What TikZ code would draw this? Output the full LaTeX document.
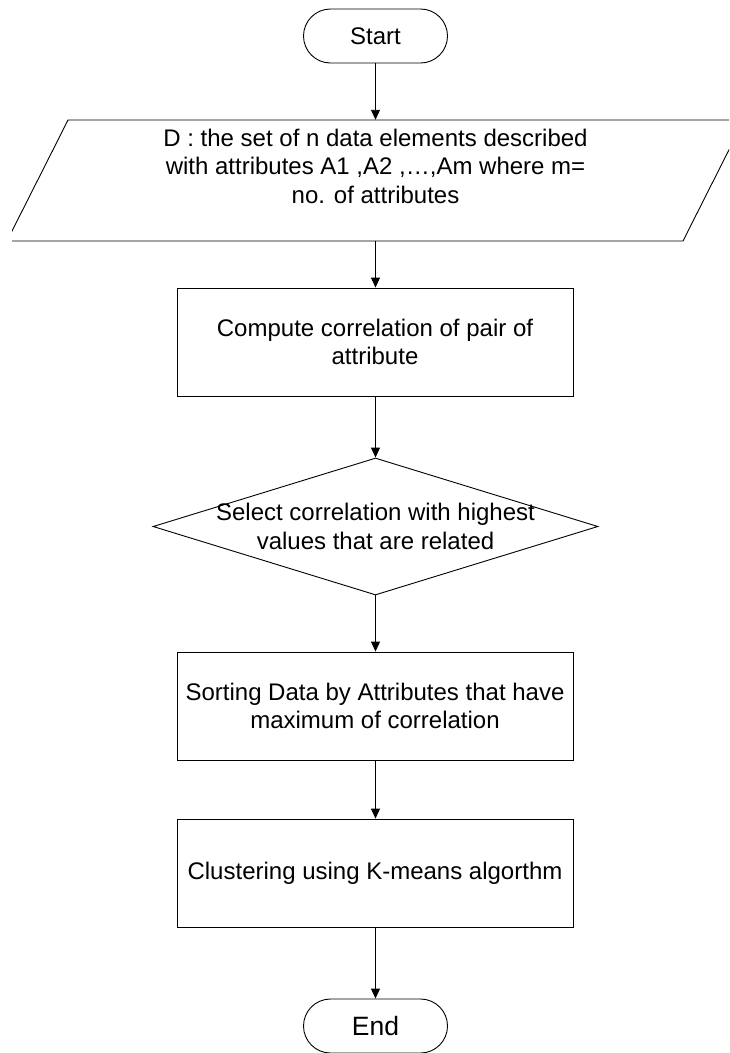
\documentclass[tikz,border=0pt]{standalone}
\usepackage{fontspec}
\setmainfont{Liberation Sans}
\usetikzlibrary{shapes.geometric,shapes.misc,arrows.meta}
\begin{document}
\begin{tikzpicture}[x=1pt,y=-1pt,
  every node/.style={font=\fontsize{24}{28.5}\selectfont, align=center, inner sep=0pt},
  term/.style={draw, rounded rectangle, minimum width=144pt, minimum height=54pt, line width=0.9pt},
  procbox/.style={draw, rectangle, minimum width=396pt, minimum height=108pt, line width=0.9pt},
  decbox/.style={draw, diamond, minimum width=445pt, minimum height=137pt, line width=0.9pt},
  iobox/.style={rectangle, minimum width=600pt, minimum height=121pt},
  flow/.style={-{Triangle[length=10pt,width=9pt]}, line width=0.9pt},
  shapeline/.style={line width=0.9pt, line join=miter}]
\useasboundingbox (0,0) rectangle (729,1053);

\node[term] (start) at (375.5,36) {Start};

\node[iobox] (data) at (375.5,180.5) {D : the set of n data elements described\\
with attributes A1 ,A2 ,…,Am where m=\\ no. of attributes\\ \mbox{}};
\begin{scope}
  \clip (12,0) rectangle (729,1053);
  \draw[shapeline] (68,120) -- (744,120) -- (683,241) -- (7,241) -- cycle;
\end{scope}

\node[procbox] (corr) at (375,342) {Compute correlation of pair of\\ attribute};

\node[decbox] (sel) at (375.5,526.5) {};
\node (seltext) at (sel.center) {Select correlation with highest\\ values that are related};

\node[procbox] (sort) at (375,706) {Sorting Data by Attributes that have\\ maximum of correlation};

\node[procbox] (clust) at (375,873) {Clustering using K-means algorthm};

\node[term, font=\fontsize{26.5}{30}\selectfont] (end) at (375.5,1026) {End};

\draw[flow] (start.south -| sel.north) -- (data.north -| sel.north);
\draw[flow] (data.south -| sel.north) -- (corr.north -| sel.north);
\draw[flow] (corr.south -| sel.north) -- (sel.north);
\draw[flow] (sel.south) -- (sort.north -| sel.south);
\draw[flow] (sort.south -| sel.south) -- (clust.north -| sel.south);
\draw[flow] (clust.south -| sel.south) -- (end.north -| sel.south);
\end{tikzpicture}
\end{document}
